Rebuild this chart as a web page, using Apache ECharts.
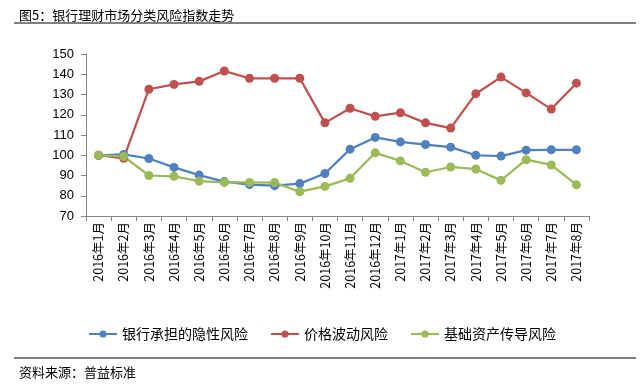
<!DOCTYPE html>
<html><head><meta charset="utf-8">
<script src="https://cdn.jsdelivr.net/npm/echarts@6/dist/echarts.min.js"></script>
<style>html,body{margin:0;padding:0;background:#fff;}#c{width:644px;height:390px;}</style>
</head><body><div id="c"></div>
<script>
var categories = ['2016年1月','2016年2月','2016年3月','2016年4月','2016年5月','2016年6月','2016年7月','2016年8月','2016年9月','2016年10月','2016年11月','2016年12月','2017年1月','2017年2月','2017年3月','2017年4月','2017年5月','2017年6月','2017年7月','2017年8月'];
var bankRisk = [100, 100.4, 98.4, 94.0, 90.2, 87.0, 85.5, 85.0, 86.0, 91.0, 103.0, 108.8, 106.6, 105.3, 104.0, 100.0, 99.6, 102.5, 102.7, 102.7];
var priceRisk = [100, 98.5, 132.6, 135.0, 136.5, 141.6, 138.0, 138.0, 138.0, 116.0, 123.2, 119.2, 121.0, 116.0, 113.4, 130.4, 138.6, 130.8, 122.8, 135.6];
var baseRisk = [100, 99.4, 90.0, 89.6, 87.2, 86.6, 86.6, 86.5, 82.0, 84.6, 88.6, 101.2, 97.2, 91.6, 94.2, 93.2, 87.6, 97.8, 95.2, 85.4];
var seriesNames = ['银行承担的隐性风险','价格波动风险','基础资产传导风险'];
var colors = ['#4F81BD','#C0504D','#9BBB59'];
var yMin = 70, yMax = 150, yStep = 10;

var chart = echarts.init(document.getElementById('c'), null, {renderer:'canvas'});
function mk(name, data, color){
  return {name:name, type:'line', data:data, symbol:'circle', symbolSize:9,
    itemStyle:{color:color}, lineStyle:{color:color, width:2.25}};
}
chart.setOption({
  animation:false,
  color: colors,
  title:[
    {text:'图5：银行理财市场分类风险指数走势', left:14, top:4, textStyle:{fontFamily:'Noto Sans CJK SC', fontSize:13, fontWeight:'normal', color:'#000'}},
    {text:'资料来源：普益标准', left:14, top:361, textStyle:{fontFamily:'Noto Sans CJK SC', fontSize:13, fontWeight:'normal', color:'#000'}}
  ],
  graphic:[
    {type:'line', shape:{x1:14,y1:23,x2:636,y2:23}, style:{stroke:'#000', lineWidth:1}},
    {type:'line', shape:{x1:14,y1:358,x2:636,y2:358}, style:{stroke:'#000', lineWidth:1}}
  ],
  legend:{
    top:322, left:'center', itemWidth:28, itemHeight:9, itemGap:22,
    textStyle:{fontFamily:'Noto Sans CJK SC', fontSize:14, color:'#000'},
    data: seriesNames
  },
  grid:{left:86, right:55, top:54, bottom:174, containLabel:false},
  xAxis:{
    type:'category', data:categories, boundaryGap:true,
    axisLine:{lineStyle:{color:'#868686', width:1}},
    axisTick:{show:true, length:5, lineStyle:{color:'#868686'}},
    axisLabel:{rotate:90, interval:0, fontFamily:'Noto Sans CJK SC', fontSize:12.5, color:'#000', margin:6}
  },
  yAxis:{
    type:'value', min:yMin, max:yMax, interval:yStep,
    axisLine:{show:true, lineStyle:{color:'#868686', width:1}},
    axisTick:{show:true, length:5, lineStyle:{color:'#868686'}},
    splitLine:{show:false},
    axisLabel:{fontFamily:'Liberation Sans', fontSize:13, color:'#000', margin:12}
  },
  series:[mk(seriesNames[0], bankRisk, colors[0]), mk(seriesNames[1], priceRisk, colors[1]), mk(seriesNames[2], baseRisk, colors[2])]
});
</script></body></html>
